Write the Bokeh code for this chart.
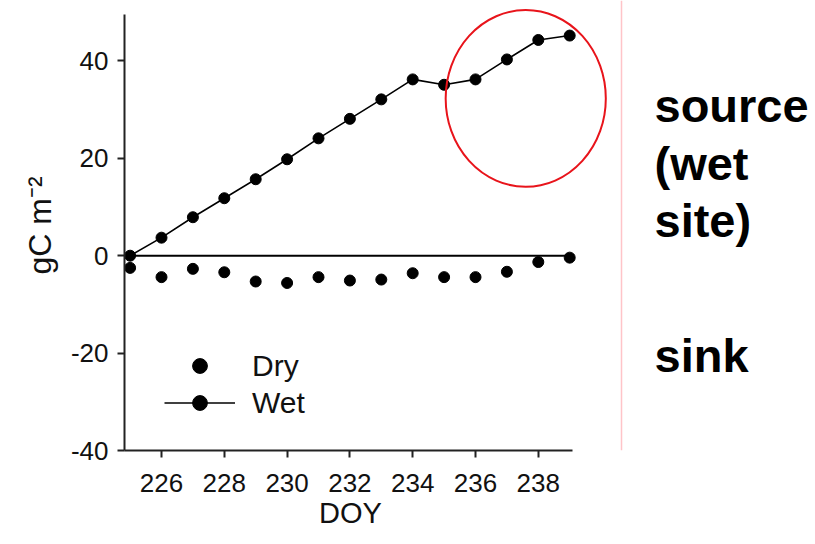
from bokeh.plotting import figure
from bokeh.models import Range1d, FixedTicker, Legend, LegendItem, Span, Label, Title
from bokeh.embed import file_html
from bokeh.resources import INLINE

# ---- data ----
doy = [225, 226, 227, 228, 229, 230, 231, 232, 233, 234, 235, 236, 237, 238, 239]
wet = [0.0, 3.7, 7.9, 11.8, 15.7, 19.8, 24.1, 28.1, 32.1, 36.2, 35.1, 36.2, 40.3, 44.3, 45.2]
dry = [-2.5, -4.4, -2.7, -3.4, -5.3, -5.6, -4.4, -5.1, -4.9, -3.6, -4.4, -4.4, -3.3, -1.3, -0.4]
x_ticks = [226, 228, 230, 232, 234, 236, 238]
y_ticks = [-40, -20, 0, 20, 40]
labels = ["Dry", "Wet"]
x_title = "DOY"
y_title = "gC m\u207b\u00b2"
side_lines = ["source", "(wet", "site)"]
side_sink = "sink"

# highlight ellipse (annotation, data units)
ell_cx, ell_cy, ell_w, ell_h = 237.6, 32.3, 5.1, 36.3

# ---- layout constants ----
W, H = 813, 542
BORDER_L, BORDER_B = 124, 92
PX_PER_DAY, PX_PER_UNIT = 31.4, 4.87
X0 = 225 - (129.6 - BORDER_L) / PX_PER_DAY
X1 = X0 + (W - BORDER_L) / PX_PER_DAY
Y0 = -40
Y1 = Y0 + (H - BORDER_B) / PX_PER_UNIT
TEXT_SHIFT = 20  # label baseline correction (px)


def px2x(px):
    return X0 + (px - BORDER_L) / PX_PER_DAY


def px2y(py):
    return Y1 - py / PX_PER_UNIT


FONT = "Liberation Sans"

p = figure(width=W, height=H, x_range=Range1d(X0, X1), y_range=Range1d(Y0, Y1),
           toolbar_location=None, output_backend="svg",
           min_border_left=BORDER_L, min_border_right=0, min_border_top=0,
           min_border_bottom=BORDER_B)
p.xgrid.grid_line_color = None
p.ygrid.grid_line_color = None
p.outline_line_color = None

# zero reference line
p.line(x=[doy[0], doy[-1]], y=[0, 0], line_color="black", line_width=2)

wet_line = p.line(x=doy, y=wet, line_color="black", line_width=1.6)
wet_pts = p.scatter(x=doy, y=wet, size=11, color="black")
dry_pts = p.scatter(x=doy, y=dry, size=11, color="black")

p.ellipse(x=[ell_cx], y=[ell_cy], width=[ell_w], height=[ell_h],
          fill_color=None, line_color="#e8141b", line_width=2)

# axes
p.xaxis.ticker = FixedTicker(ticks=x_ticks)
p.yaxis.ticker = FixedTicker(ticks=y_ticks)
p.yaxis.major_label_overrides = {t: str(t) for t in y_ticks}
p.xaxis.bounds = (X0, px2x(572))
p.yaxis.bounds = (Y0, px2y(13.5))
for ax in (p.xaxis[0], p.yaxis[0]):
    ax.axis_line_color = "#222222"
    ax.axis_line_width = 2
    ax.major_tick_line_color = "#222222"
    ax.major_tick_line_width = 2
    ax.major_tick_in = 0
    ax.major_tick_out = 7
    ax.minor_tick_line_color = None
    ax.major_label_text_font = FONT
    ax.major_label_text_font_size = "26px"
    ax.major_label_text_color = "#111111"
    ax.axis_label_text_font = FONT
    ax.axis_label_text_font_style = "normal"
    ax.axis_label_text_color = "#111111"
p.xaxis.major_label_standoff = 16
p.yaxis.axis_label = y_title
p.yaxis.axis_label_text_font_size = "32px"
p.yaxis.major_label_standoff = 9
p.yaxis.axis_label_standoff = 10

# x-axis title centred under the plotted area
p.add_layout(Title(text=x_title, align="left", offset=350 - 31.4 - BORDER_L, standoff=0,
                   text_font=FONT, text_font_size="29px", text_font_style="normal",
                   text_color="#111111"), "below")

legend = Legend(items=[LegendItem(label=labels[0], renderers=[dry_pts]),
                       LegendItem(label=labels[1], renderers=[wet_line, wet_pts])],
                location=(40, 29))
legend.label_text_font = FONT
legend.label_text_font_size = "30px"
legend.label_text_color = "#111111"
legend.glyph_width = 71
legend.glyph_height = 37
legend.label_height = 37
legend.label_standoff = 17
legend.spacing = 0
legend.padding = 0
legend.margin = 0
legend.border_line_color = None
legend.background_fill_alpha = 0
p.add_layout(legend)

# right-hand divider and text
p.add_layout(Span(location=px2x(621), dimension="height", line_color="#ffc4c8", line_width=1.5))
for i, s in enumerate(side_lines):
    p.add_layout(Label(x=px2x(654), y=px2y(125 - TEXT_SHIFT + 57.5 * i), text=s,
                       text_font=FONT, text_font_style="bold", text_font_size="47px",
                       text_color="black", text_baseline="alphabetic"))
p.add_layout(Label(x=px2x(654), y=px2y(375 - TEXT_SHIFT), text=side_sink,
                   text_font=FONT, text_font_style="bold", text_font_size="47px",
                   text_color="black", text_baseline="alphabetic"))

open("out.html", "w").write(file_html(p, INLINE))
